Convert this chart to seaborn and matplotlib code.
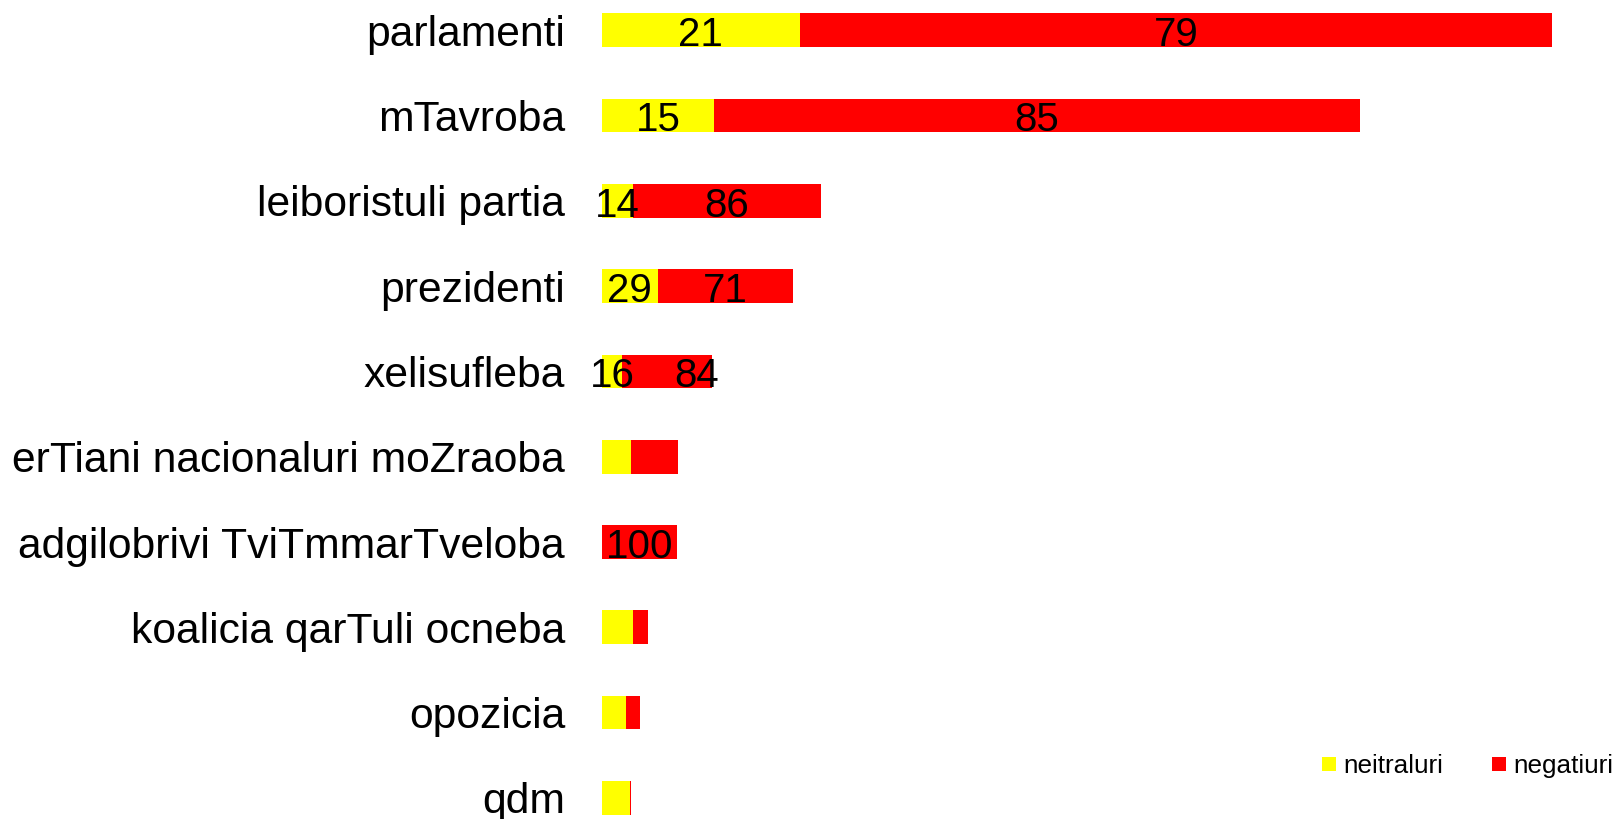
import matplotlib
matplotlib.use("Agg")
import matplotlib.pyplot as plt
import seaborn as sns
import pandas as pd
import numpy as np
from matplotlib.lines import Line2D

categories = ["parlamenti", "mTavroba", "leiboristuli partia", "prezidenti",
              "xelisufleba", "erTiani nacionaluri moZraoba",
              "adgilobrivi TviTmmarTveloba", "koalicia qarTuli ocneba",
              "opozicia", "qdm"]
neutral = [34.1, 19.3, 5.4, 9.6, 3.4, 5.0, 0.0, 5.4, 4.1, 4.8]
negative = [129.7, 111.4, 32.3, 23.3, 15.5, 8.1, 12.9, 2.5, 2.5, 0.2]
neutral_pct = ["21", "15", "14", "29", "16", "", "", "", "", ""]
negative_pct = ["79", "85", "86", "71", "84", "", "100", "", "", ""]
series_names = ["neitraluri", "negatiuri"]

YELLOW = "#FFFF00"
RED = "#FF0000"

sns.set_theme(style="white")
plt.rcParams["font.family"] = ["Liberation Sans", "DejaVu Sans"]
plt.rcParams["text.color"] = "black"

df = pd.DataFrame({"cat": categories, "neutral": neutral, "negative": negative})
df["total"] = df["neutral"] + df["negative"]

fig = plt.figure(figsize=(16.16, 8.19), dpi=100)
ax = fig.add_axes([602 / 1616, 0, 1 - 602 / 1616, 1])

sns.barplot(data=df, x="total", y="cat", color=RED, orient="h", width=0.395,
            linewidth=0, saturation=1, ax=ax)
sns.barplot(data=df, x="neutral", y="cat", color=YELLOW, orient="h", width=0.395,
            linewidth=0, saturation=1, ax=ax)

ax.set_xlim(0, (1616 - 602) / 5.8)
ax.set_ylim(9.247, -0.354)
ax.set_xlabel("")
ax.set_ylabel("")
ax.set_xticks([])
for s in ax.spines.values():
    s.set_visible(False)
ax.tick_params(axis="y", length=0, pad=26.6, labelsize=30.7, labelcolor="black")

label_dx = [0, 0, 0, 0, 30, 0, 0, 0, 0, 0]
for i in range(len(categories)):
    n, g = neutral[i], negative[i]
    if neutral_pct[i]:
        ax.annotate(neutral_pct[i], (n / 2, i), xytext=(0, -11.5),
                    textcoords="offset points", ha="center", va="baseline",
                    fontsize=29, color="black", annotation_clip=False)
    if negative_pct[i]:
        ax.annotate(negative_pct[i], (n + g / 2, i),
                    xytext=(label_dx[i] * 0.72, -11.5),
                    textcoords="offset points", ha="center", va="baseline",
                    fontsize=29, color="black", annotation_clip=False)

handles = [Line2D([], [], marker="s", linestyle="none", markersize=9.7,
                  markerfacecolor=c, markeredgewidth=0)
           for c in (YELLOW, RED)]
leg = fig.legend(handles, series_names, loc="center left",
                 bbox_to_anchor=(1321.6 / 1616, 1 - 766 / 819),
                 bbox_transform=fig.transFigure, ncol=2, frameon=False,
                 fontsize=18.8, handlelength=0.55, handletextpad=0.28,
                 columnspacing=1.86, borderpad=0, borderaxespad=0)
for t in leg.get_texts():
    t.set_color("black")

fig.savefig("out.png", dpi=100)
